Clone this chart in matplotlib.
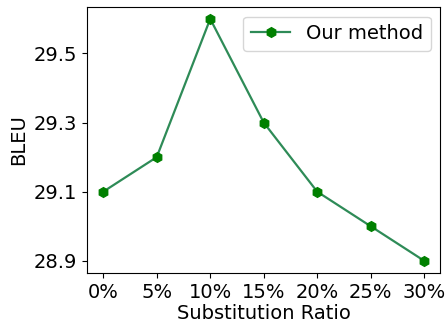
import matplotlib
matplotlib.use('Agg')
import matplotlib.pyplot as plt

ratios = ['0%', '5%', '10%', '15%', '20%', '25%', '30%']
x_pos = [0, 5, 10, 15, 20, 25, 30]
bleu = [29.1, 29.2, 29.6, 29.3, 29.1, 29.0, 28.9]
y_ticks = [28.9, 29.1, 29.3, 29.5]

plt.rcParams['font.size'] = 14
fig = plt.figure(figsize=(4.47, 3.23), dpi=100)
ax = fig.add_axes([0.195, 0.155, 0.79, 0.824])
ax.plot(x_pos, bleu, color='seagreen', marker='h', markerfacecolor='green',
        markeredgecolor='green', markersize=7, linewidth=1.6, label='Our method')
ax.set_xticks(x_pos)
ax.set_xticklabels(ratios)
ax.set_yticks(y_ticks)
ax.set_xlabel('Substitution Ratio', labelpad=2)
ax.set_ylabel('BLEU')
ax.legend(loc='upper right')
fig.savefig('out.png', dpi=100)
